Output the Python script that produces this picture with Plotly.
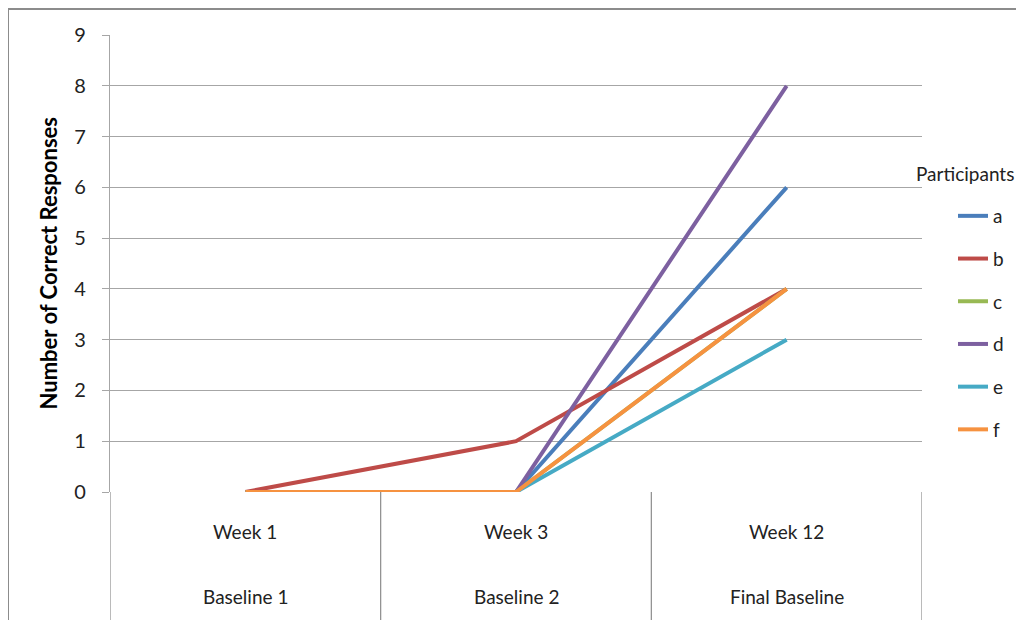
import plotly.graph_objects as go

weeks = ["Week 1", "Week 3", "Week 12"]
phases = ["Baseline 1", "Baseline 2", "Final Baseline"]
participants = ["a", "b", "c", "d", "e", "f"]
series = {
    "a": [0, 0, 6],
    "b": [0, 1, 4],
    "c": [0, 0, 4],
    "d": [0, 0, 8],
    "e": [0, 0, 3],
    "f": [0, 0, 4],
}
colors = {
    "a": "#4A7EBB",
    "b": "#BE4B48",
    "c": "#98B954",
    "d": "#7D60A0",
    "e": "#46AAC5",
    "f": "#F69240",
}
y_ticks = list(range(0, 10))

FONT = "Lato"
W, H = 1008, 612
L, T = 102, 27
pw, ph = 812, 457
R, B = W - L - pw, H - T - ph
bottom = T + ph  # fig px of y=0

def px_y(py):
    return (bottom - py) / ph

def px_x(px):
    return (px - L) / pw

fig = go.Figure()
xs = list(range(len(weeks)))
for p in participants:
    fig.add_trace(go.Scatter(
        x=xs, y=series[p], mode="lines", name=p,
        line=dict(color=colors[p], width=4),
        legendgroup=p,
    ))

shapes = []
for i in range(len(weeks) + 1):
    shapes.append(dict(type="line", xref="x", yref="paper",
                       x0=i - 0.5, x1=i - 0.5, y0=0, y1=px_y(620),
                       line=dict(color="#8c8c8c", width=1.2)))
shapes.append(dict(type="rect", xref="paper", yref="paper",
                   x0=px_x(0), x1=px_x(1040),
                   y0=px_y(660), y1=px_y(1),
                   line=dict(color="#8c8c8c", width=2), layer="below"))

annotations = []
for i, w in enumerate(weeks):
    annotations.append(dict(x=i, y=px_y(523), xref="x", yref="paper",
                            yanchor="middle", text=w, showarrow=False,
                            font=dict(family=FONT, size=19, color="#222")))
for i, ph_name in enumerate(phases):
    annotations.append(dict(x=i, y=px_y(588), xref="x", yref="paper",
                            yanchor="middle", text=ph_name, showarrow=False,
                            font=dict(family=FONT, size=19, color="#222")))
annotations.append(dict(x=px_x(40), y=0.5, xref="paper", yref="paper",
                        textangle=-90, xanchor="center", yanchor="middle",
                        text="<b>Number of Correct Responses</b>", showarrow=False,
                        font=dict(family=FONT, size=22, color="#000")))
annotations.append(dict(x=px_x(906), y=px_y(165), xref="paper", yref="paper",
                        xanchor="left", yanchor="middle",
                        text="Participants", showarrow=False,
                        font=dict(family=FONT, size=19, color="#222")))

fig.update_layout(
    width=W, height=H,
    margin=dict(l=L, r=R, t=T, b=B, autoexpand=False),
    paper_bgcolor="white", plot_bgcolor="white",
    font=dict(family=FONT, size=18, color="#222"),
    shapes=shapes, annotations=annotations,
    xaxis=dict(range=[-0.5, 2.5], showgrid=False, showticklabels=False,
               zeroline=False, showline=False, ticks=""),
    yaxis=dict(range=[0, 9], tickvals=y_ticks, showgrid=True,
               gridcolor="#a6a6a6", gridwidth=1.2, zeroline=False,
               showline=True, linecolor="#a6a6a6", linewidth=1.2,
               ticks="outside", ticklen=7, tickcolor="#a6a6a6",
               ticklabelstandoff=12,
               tickfont=dict(family=FONT, size=20, color="#222")),
    legend=dict(x=px_x(945), xanchor="left", y=px_y(189),
                yanchor="top", traceorder="grouped", tracegroupgap=15,
                font=dict(family=FONT, size=19, color="#222"),
                bgcolor="rgba(0,0,0,0)", itemwidth=30),
    showlegend=True,
)

fig.write_html("out.html")
